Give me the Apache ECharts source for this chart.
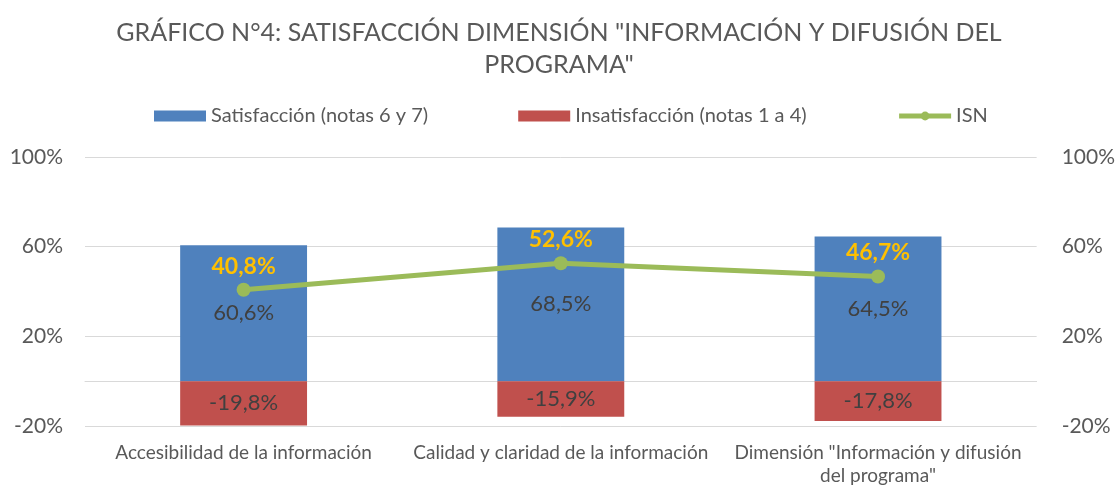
<!DOCTYPE html>
<html>
<head>
<meta charset="utf-8">
<script src="https://cdn.jsdelivr.net/npm/echarts@6/dist/echarts.min.js"></script>
<style>
  html, body { margin: 0; padding: 0; background: #fff; }
  #chart { width: 1118px; height: 489px; }
</style>
</head>
<body>
<div id="chart"></div>
<script>
var categories = ['Accesibilidad de la información', 'Calidad y claridad de la información', 'Dimensión "Información y difusión\ndel programa"'];
var satisfaccion = [60.6, 68.5, 64.5];
var insatisfaccion = [-19.8, -15.9, -17.8];
var isn = [40.8, 52.6, 46.7];

var FONT = 'Lato';

function pct(v) {
  return v.toFixed(1).replace('.', ',') + '%';
}

var chart = echarts.init(document.getElementById('chart'));
chart.setOption({
  animation: false,
  textStyle: { fontFamily: FONT },
  title: {
    text: 'GRÁFICO N°4: SATISFACCIÓN DIMENSIÓN "INFORMACIÓN Y DIFUSIÓN DEL\nPROGRAMA"',
    left: 'center',
    top: 12,
    textStyle: { fontFamily: FONT, fontSize: 25, fontWeight: 'normal', color: '#595959', lineHeight: 32, align: 'center' }
  },
  legend: {
    top: 101,
    left: 149,
    itemWidth: 52,
    itemHeight: 11,
    itemGap: 90,
    textStyle: { fontFamily: FONT, fontSize: 20, color: '#595959' },
    data: [
      { name: 'Satisfacción (notas 6 y 7)', icon: 'rect' },
      { name: 'Insatisfacción (notas 1 a 4)', icon: 'rect' },
      { name: 'ISN', lineStyle: { width: 5 }, itemHeight: 14 }
    ]
  },
  grid: { left: 85, right: 81, top: 157, bottom: 63 },
  xAxis: [
    {
      // labels at the bottom of the plot
      type: 'category',
      data: categories,
      axisLine: { show: false, onZero: false },
      axisTick: { show: false },
      axisLabel: { interval: 0, margin: 15, fontFamily: FONT, fontSize: 19, color: '#595959', lineHeight: 23 }
    },
    {
      // zero line only
      type: 'category',
      data: categories,
      position: 'bottom',
      axisLine: { onZero: true, lineStyle: { color: '#D9D9D9', width: 1 } },
      axisTick: { show: false },
      axisLabel: { show: false }
    }
  ],
  yAxis: [
    {
      type: 'value', min: -20, max: 100, interval: 40,
      axisLine: { show: false }, axisTick: { show: false },
      axisLabel: { formatter: '{value}%', fontFamily: FONT, fontSize: 21, color: '#595959', margin: 22 },
      splitLine: { lineStyle: { color: '#D9D9D9', width: 1 } }
    },
    {
      type: 'value', min: -20, max: 100, interval: 40,
      axisLine: { show: false }, axisTick: { show: false },
      axisLabel: { formatter: '{value}%', fontFamily: FONT, fontSize: 21, color: '#595959', margin: 25 },
      splitLine: { show: false }
    }
  ],
  series: [
    {
      name: 'Satisfacción (notas 6 y 7)',
      type: 'bar', stack: 'total', barWidth: '40%',
      data: satisfaccion,
      itemStyle: { color: '#4F81BD' },
      label: { show: true, position: 'inside', fontSize: 22, color: '#404040', fontFamily: FONT, formatter: function (p) { return pct(p.value); } }
    },
    {
      name: 'Insatisfacción (notas 1 a 4)',
      type: 'bar', stack: 'total', barWidth: '40%',
      data: insatisfaccion,
      itemStyle: { color: '#C0504D' },
      label: { show: true, position: 'inside', fontSize: 22, color: '#404040', fontFamily: FONT, formatter: function (p) { return pct(p.value); } }
    },
    {
      name: 'ISN',
      type: 'line', yAxisIndex: 1,
      data: isn,
      symbol: 'circle', symbolSize: 14,
      lineStyle: { color: '#9BBB59', width: 5 },
      itemStyle: { color: '#9BBB59' },
      label: { show: true, position: 'top', distance: 5, fontSize: 23, fontWeight: 'bold', color: '#FFC000', fontFamily: FONT, formatter: function (p) { return pct(p.value); } }
    }
  ]
});
</script>
</body>
</html>
